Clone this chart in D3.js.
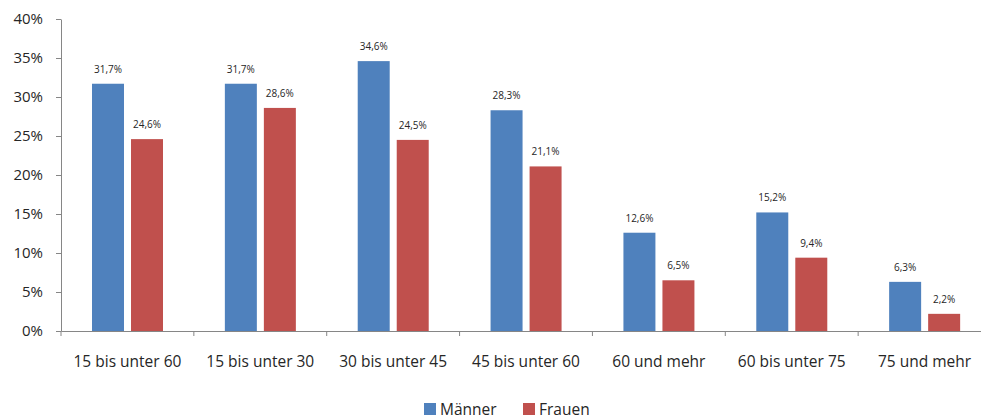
<!doctype html>
<html>
<head>
<meta charset="utf-8">
<script src="https://d3js.org/d3.v7.min.js"></script>
<style>
  body { margin: 0; background: #fff; }
  svg { display: block; font-family: "Open Sans", sans-serif; }
</style>
</head>
<body>
<svg id="chart" width="981" height="419"></svg>
<script>
    // age groups
    var categories = ["15 bis unter 60", "15 bis unter 30", "30 bis unter 45",
        "45 bis unter 60", "60 und mehr", "60 bis unter 75", "75 und mehr"];
    var series = ["Männer", "Frauen"];
    var maenner = [31.7, 31.7, 34.6, 28.3, 12.6, 15.2, 6.3];
    var frauen = [24.6, 28.6, 24.5, 21.1, 6.5, 9.4, 2.2];
    var yTicks = [0, 5, 10, 15, 20, 25, 30, 35, 40];
    var colors = ["#4f81bd", "#c0504d"];

    var svg = d3.select("#chart");
    var plotLeft = 61, plotRight = 991, plotTop = 19, plotBottom = 331;

    var x = d3.scaleBand().domain(categories).range([plotLeft, plotRight]);
    var x1 = d3.scaleBand().domain(series).range([31, 102]).paddingInner(0.18);
    var y = d3.scaleLinear().domain([0, 40]).range([plotBottom, plotTop]);
    var color = d3.scaleOrdinal().domain(series).range(colors);

    var rows = categories.map(function (c, i) {
        return { cat: c, values: [{ s: "Männer", v: maenner[i] }, { s: "Frauen", v: frauen[i] }] };
    });

    // Y axis
    svg.append("g")
        .attr("transform", "translate(" + plotLeft + ",0)")
        .call(d3.axisLeft(y).tickValues(yTicks).tickSize(5).tickSizeOuter(0)
            .tickFormat(function (d) { return d + "%"; }))
        .call(g => g.select(".domain").attr("stroke", "#868686"))
        .call(g => g.selectAll(".tick line").attr("stroke", "#868686"))
        .call(g => g.selectAll(".tick text")
            .attr("x", -18)
            .attr("fill", "#262626")
            .style("font-size", "15px")
            .style("font-family", "'Open Sans', sans-serif"));

    // bars
    var groups = svg.append("g").selectAll("g")
        .data(rows)
        .enter()
        .append("g")
        .attr("transform", d => "translate(" + x(d.cat) + ",0)");

    groups.selectAll("rect")
        .data(d => d.values)
        .enter()
        .append("rect")
        .attr("x", d => x1(d.s))
        .attr("width", x1.bandwidth())
        .attr("y", d => y(d.v))
        .attr("height", d => plotBottom - y(d.v))
        .attr("fill", d => color(d.s));

    groups.selectAll("text")
        .data(d => d.values)
        .enter()
        .append("text")
        .attr("x", d => x1(d.s) + x1.bandwidth() / 2)
        .attr("y", d => y(d.v) - 11)
        .attr("text-anchor", "middle")
        .attr("fill", "#262626")
        .style("font-size", "10px")
        .text(d => d.v.toFixed(1).replace(".", ",") + "%");

    // X axis
    svg.append("g")
        .attr("transform", "translate(0," + plotBottom + ")")
        .call(d3.axisBottom(x).tickSize(0).tickSizeOuter(0))
        .call(g => g.select(".domain").attr("stroke", "#868686"))
        .call(g => g.selectAll(".tick text")
            .attr("y", 25)
            .attr("fill", "#262626")
            .style("font-size", "15.5px")
            .style("font-family", "'Open Sans', sans-serif"));

    // category separators
    svg.append("g").selectAll("line")
        .data(categories)
        .enter()
        .append("line")
        .attr("x1", d => x(d)).attr("x2", d => x(d))
        .attr("y1", plotBottom).attr("y2", plotBottom + 5)
        .attr("stroke", "#868686");

    // legend
    var legend = svg.append("g").attr("transform", "translate(424,403)");
    var lx = [0, 99];
    series.forEach(function (s, i) {
        legend.append("rect")
            .attr("x", lx[i]).attr("y", 0)
            .attr("width", 12).attr("height", 12)
            .attr("fill", color(s));
        legend.append("text")
            .attr("x", lx[i] + 16).attr("y", 11.5)
            .attr("fill", "#262626")
            .style("font-size", "15.5px")
            .text(s);
    });
</script>
</body>
</html>
